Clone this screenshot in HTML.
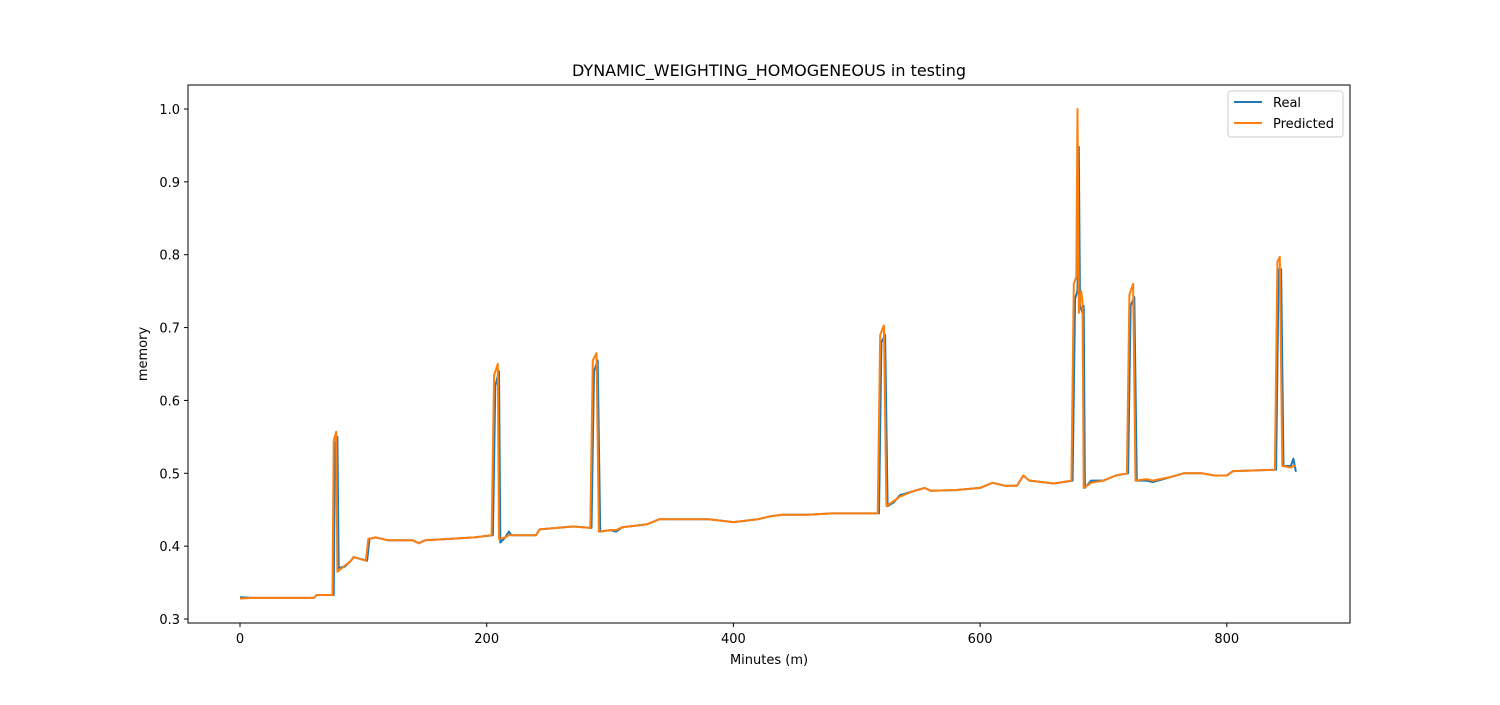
<!DOCTYPE html>
<html><head><meta charset="utf-8"><style>
body{margin:0;background:#fff;font-family:"Liberation Sans","DejaVu Sans",sans-serif}
svg text{font-family:"DejaVu Sans","Liberation Sans",sans-serif;fill:#000}
</style></head><body>
<svg id="chart" width="1500" height="700" xmlns="http://www.w3.org/2000/svg">
<rect width="1500" height="700" fill="#fff"/>
<text x="769" y="76" font-size="16" text-anchor="middle">DYNAMIC_WEIGHTING_HOMOGENEOUS in testing</text>
<g id="xt"></g><g id="yt"></g>
<g id="lines"></g>
<rect x="188" y="85" width="1162" height="538" fill="none" stroke="#000" stroke-width="1"/>
<text x="769" y="664" font-size="13" text-anchor="middle">Minutes (m)</text>
<text transform="translate(147,354) rotate(-90)" font-size="13" text-anchor="middle">memory</text>
<g>
<rect x="1228" y="91" width="115" height="46" rx="3" fill="#fff" stroke="#ccc"/>
<line x1="1234" y1="102" x2="1262" y2="102" stroke="#1f77b4" stroke-width="2"/>
<text x="1273" y="107" font-size="13">Real</text>
<line x1="1234" y1="123" x2="1262" y2="123" stroke="#ff7f0e" stroke-width="2"/>
<text x="1273" y="128" font-size="13">Predicted</text>
</g>
</svg>
<script>
const xTicks=[0,200,400,600,800];
const yTicks=[0.3,0.4,0.5,0.6,0.7,0.8,0.9,1.0];
const realX=[0,10,60,62,75,76,77,79,80,85,90,92,103,105,110,120,140,145,150,170,190,205,207,210,211,215,218,220,240,243,270,285,287,290,292,300,305,310,330,340,380,400,420,430,440,460,480,518,520,523,525,530,535,545,555,560,580,600,610,620,630,635,640,660,675,677,679,680,681,683,684,685,690,700,710,720,722,725,727,735,740,755,765,780,790,800,805,840,842,844,846,852,854,856];
const realY=[0.33,0.329,0.329,0.333,0.333,0.333,0.54,0.55,0.37,0.372,0.38,0.385,0.38,0.41,0.412,0.408,0.408,0.404,0.408,0.41,0.412,0.415,0.62,0.64,0.405,0.412,0.42,0.415,0.415,0.423,0.427,0.425,0.64,0.655,0.42,0.422,0.42,0.426,0.43,0.437,0.437,0.433,0.437,0.441,0.443,0.443,0.445,0.445,0.68,0.69,0.455,0.46,0.47,0.475,0.48,0.476,0.477,0.48,0.487,0.483,0.483,0.497,0.49,0.486,0.49,0.74,0.75,0.948,0.73,0.72,0.73,0.48,0.49,0.49,0.497,0.5,0.73,0.742,0.49,0.49,0.488,0.495,0.5,0.5,0.497,0.497,0.503,0.505,0.78,0.78,0.51,0.51,0.52,0.502];
const predX=[0,10,60,62,74,75,76,78,79,84,90,92,102,104,110,120,140,145,150,170,190,204,206,209,210,215,218,220,240,243,270,284,286,289,291,300,305,310,330,340,380,400,420,430,440,460,480,517,519,522,524,530,535,545,555,560,580,600,610,620,630,635,640,660,674,676,678,679,680,682,683,684,690,700,710,719,721,724,726,735,740,755,765,780,790,800,805,839,841,843,845,852,854,856];
const predY=[0.328,0.329,0.329,0.333,0.333,0.333,0.545,0.557,0.365,0.372,0.38,0.385,0.38,0.41,0.412,0.408,0.408,0.404,0.408,0.41,0.412,0.415,0.635,0.65,0.41,0.412,0.415,0.415,0.415,0.423,0.427,0.425,0.655,0.665,0.42,0.422,0.422,0.426,0.43,0.437,0.437,0.433,0.437,0.441,0.443,0.443,0.445,0.445,0.69,0.703,0.455,0.462,0.468,0.475,0.48,0.476,0.477,0.48,0.487,0.483,0.483,0.497,0.49,0.486,0.49,0.76,0.77,1.0,0.72,0.75,0.735,0.48,0.487,0.49,0.497,0.5,0.745,0.76,0.49,0.492,0.49,0.495,0.5,0.5,0.497,0.497,0.503,0.505,0.79,0.797,0.51,0.508,0.51,0.51];
const NS="http://www.w3.org/2000/svg";
const sx=v=>240+v*1.2335;
const sy=v=>109+(1.0-v)*728.6;
const xt=document.getElementById('xt'),yt=document.getElementById('yt'),lg=document.getElementById('lines');
xTicks.forEach(t=>{
 const l=document.createElementNS(NS,'line');
 
 
 l.setAttribute('x1',sx(t));l.setAttribute('x2',sx(t));l.setAttribute('y1',623);l.setAttribute('y2',627);l.setAttribute('stroke','#000');xt.appendChild(l);
 const tx=document.createElementNS(NS,'text');
 
 
 tx.setAttribute('x',sx(t));tx.setAttribute('y',643);tx.setAttribute('font-size','13');tx.setAttribute('text-anchor','middle');tx.textContent=t;xt.appendChild(tx);
});
yTicks.forEach(t=>{
 const l=document.createElementNS(NS,'line');
 
 
 l.setAttribute('x1',184);l.setAttribute('x2',188);l.setAttribute('y1',sy(t));l.setAttribute('y2',sy(t));l.setAttribute('stroke','#000');yt.appendChild(l);
 const tx=document.createElementNS(NS,'text');
 
 
 tx.setAttribute('x',180);tx.setAttribute('y',sy(t)+5);tx.setAttribute('font-size','13');tx.setAttribute('text-anchor','end');tx.textContent=t.toFixed(1);yt.appendChild(tx);
});
function draw(xs,ys,color,name){
 const p=document.createElementNS(NS,'polyline');
 
 
 p.setAttribute('points',xs.map((x,i)=>sx(x).toFixed(1)+','+sy(ys[i]).toFixed(1)).join(' '));
 p.setAttribute('fill','none');p.setAttribute('stroke',color);p.setAttribute('stroke-width','2');p.setAttribute('stroke-linejoin','round');
 lg.appendChild(p);
}
draw(realX,realY,'#1f77b4','real-line');
draw(predX,predY,'#ff7f0e','predicted-line');
</script>
</body></html>
